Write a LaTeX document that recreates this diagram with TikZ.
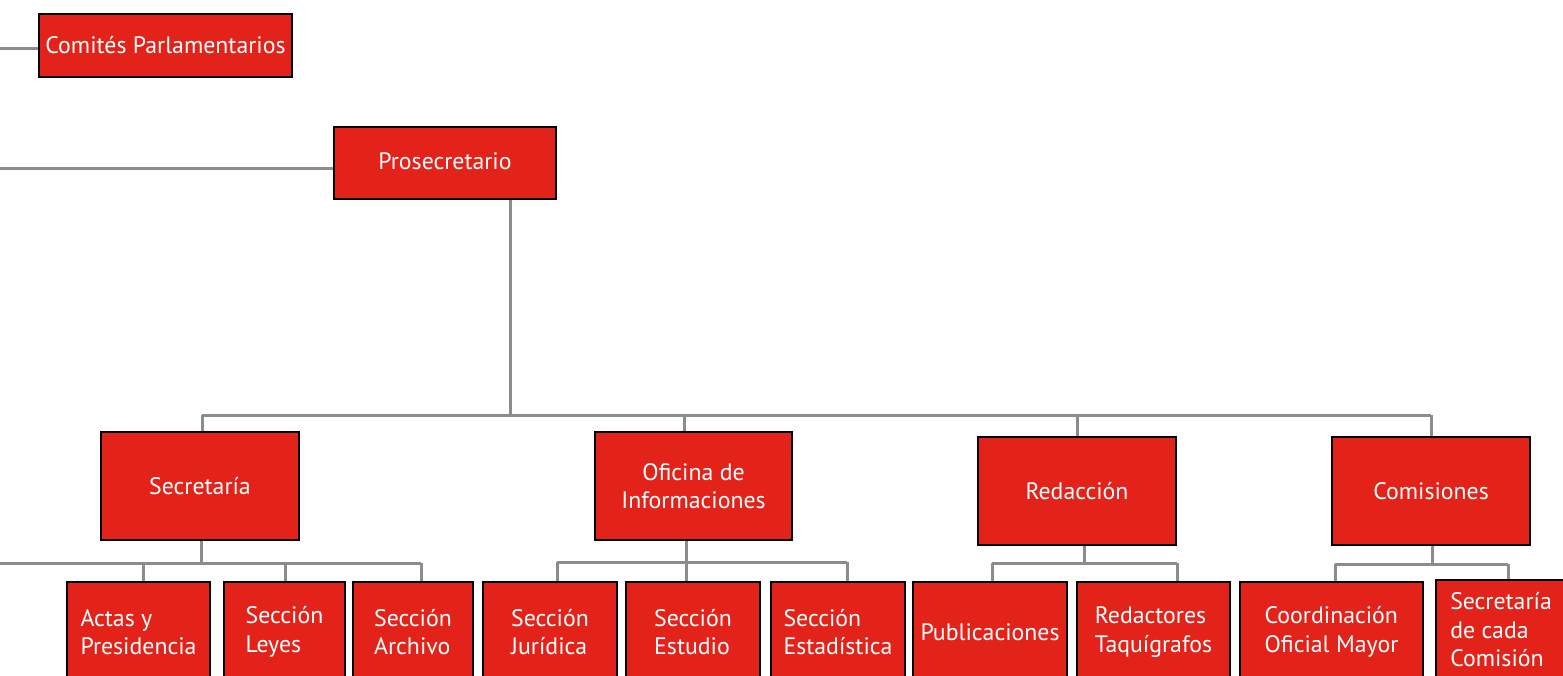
\documentclass[tikz,border=0pt]{standalone}
\usepackage{fontspec}
\setmainfont{PT Sans}
\usetikzlibrary{backgrounds}
\definecolor{boxred}{HTML}{E3231A}
\definecolor{linegray}{HTML}{8C8C8C}
\begin{document}
\begin{tikzpicture}[x=1pt,y=-1pt,
  orgbox/.style={draw=black, line width=2.6pt, fill=boxred, text=white, inner sep=0pt,
    font=\fontsize{23.8}{28.5}\selectfont, rectangle},
  topbox/.style={orgbox, align=center},
  leafbox/.style={orgbox, align=left, minimum height=100pt},
  conn/.style={draw=linegray, line width=3pt}]
\useasboundingbox (0,0) rectangle (1563,675);
\clip (0,0) rectangle (1563,675);
% top level
\node[topbox, minimum width=253pt, minimum height=63pt] (comites) at (165.5,45.5) {Comités Parlamentarios};
\node[topbox, minimum width=222pt, minimum height=72pt] (prosec) at (445,163) {\raisebox{3pt}{Prosecretario}};
% second level
\node[topbox, minimum width=198pt, minimum height=108pt] (secr) at (200,486) {Secretaría};
\node[topbox, minimum width=197pt, minimum height=108pt] (ofic) at (693.5,486) {Oficina de\\Informaciones};
\node[topbox, minimum width=198pt, minimum height=108pt] (redac) at (1077,491) {Redacción};
\node[topbox, minimum width=198pt, minimum height=108pt] (comis) at (1431,491) {Comisiones};
% leaves
\node[leafbox, minimum width=143pt] (actas) at (138.5,632) {Actas y\\Presidencia};
\node[leafbox, minimum width=121pt] (leyes) at (284.5,632) {Sección\\Leyes};
\node[leafbox, minimum width=120pt] (archivo) at (413,632) {Sección\\Archivo};
\node[leafbox, minimum width=134pt] (juridica) at (550,632) {Sección\\Jurídica};
\node[leafbox, minimum width=134pt] (estudio) at (693,632) {Sección\\Estudio};
\node[leafbox, minimum width=134pt] (estad) at (838,632) {Sección\\Estadística};
\node[leafbox, minimum width=154pt] (public) at (990,632) {Publicaciones};
\node[leafbox, minimum width=153pt] (redact) at (1153.5,632) {Redactores\\Taquígrafos};
\node[leafbox, minimum width=183pt] (coord) at (1331.5,632) {Coordinación\\Oficial Mayor};
\node[leafbox, minimum width=130pt] (secada) at (1501,630) {Secretaría\\de cada\\Comisión};
% coordinates
\coordinate (cl) at (0,48);
\coordinate (pl) at (0,168);
\coordinate (pbus) at (510,415);
\coordinate (bs) at (202,415);
\coordinate (bo) at (684,415);
\coordinate (br) at (1077,415);
\coordinate (bc) at (1431,415);
\coordinate (sj) at (201,563);
\coordinate (sl) at (0,563);
\coordinate (s1) at (143,563);
\coordinate (s2) at (285,563);
\coordinate (s3) at (421,563);
\coordinate (oj) at (686,562);
\coordinate (o1) at (557,562);
\coordinate (o3) at (847,562);
\coordinate (rj) at (1084,563);
\coordinate (r1) at (992,563);
\coordinate (r2) at (1177,563);
\coordinate (cj) at (1432,564);
\coordinate (c1) at (1335,564);
\coordinate (c2) at (1508,564);
\begin{scope}[on background layer]
\draw[conn] (cl) -- (cl -| comites.west);
\draw[conn] (pl) -- (pl -| prosec.west);
\draw[conn] (pbus |- prosec.south) -- (pbus);
\draw[conn] (bs) -- (bc);
\draw[conn] (bs) -- (bs |- secr.north);
\draw[conn] (bo) -- (bo |- ofic.north);
\draw[conn] (br) -- (br |- redac.north);
\draw[conn] (bc) -- (bc |- comis.north);
% Secretaría
\draw[conn] (sj |- secr.south) -- (sj);
\draw[conn] (sl) -- (s3);
\draw[conn] (s1) -- (s1 |- actas.north);
\draw[conn] (s2) -- (s2 |- leyes.north);
\draw[conn] (s3) -- (s3 |- archivo.north);
% Oficina
\draw[conn] (oj |- ofic.south) -- (oj |- estudio.north);
\draw[conn] (o1) -- (o3);
\draw[conn] (o1) -- (o1 |- juridica.north);
\draw[conn] (o3) -- (o3 |- estad.north);
% Redacción
\draw[conn] (rj |- redac.south) -- (rj);
\draw[conn] (r1) -- (r2);
\draw[conn] (r1) -- (r1 |- public.north);
\draw[conn] (r2) -- (r2 |- redact.north);
% Comisiones
\draw[conn] (cj |- comis.south) -- (cj);
\draw[conn] (c1) -- (c2);
\draw[conn] (c1) -- (c1 |- coord.north);
\draw[conn] (c2) -- (c2 |- secada.north);
\end{scope}
\end{tikzpicture}
\end{document}
